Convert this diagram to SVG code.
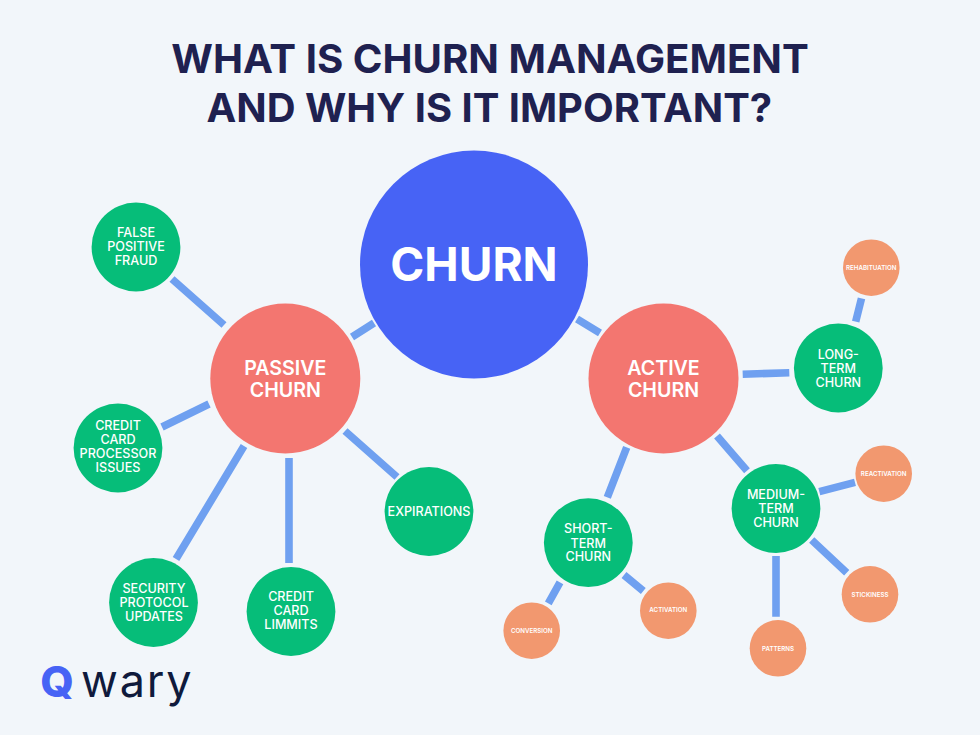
<svg xmlns="http://www.w3.org/2000/svg" width="980" height="735" viewBox="0 0 980 735">
<style>
text{font-family:"Inter","Liberation Sans",sans-serif;text-anchor:middle;font-weight:500}
.l{stroke:#6fa0f0;stroke-width:7.6;fill:none}
.g{fill:#06bd79}.r{fill:#f37670}.o{fill:#f2986f}
.gt{fill:#fff;font-size:12.6px;font-weight:550}.rt{fill:#fff;font-size:19.6px;font-weight:600}.ot{fill:#fff;font-size:6.2px;font-weight:600}
.t{fill:#1f2150;font-size:40.2px;font-weight:700}
</style>
<rect width="980" height="735" fill="#f2f6fa"/>
<text class="t" x="490" y="73">WHAT IS CHURN MANAGEMENT</text>
<text class="t" x="489.3" y="122" style="font-size:39.9px">AND WHY IS IT IMPORTANT?</text>
<g id="connectors">
<path class="l" d="M352 337L374 323M172 279L224 325M162 427L209 404M176 559L244 446M289 458L289 563M345 431L397 477M577 319L600 333M742.7 374.3L789.3 372.7M855.7 321.7L861.5 298.3M717 436L747 470.7M626.7 447.3L607.3 497.3M548.3 603.3L560 582.3M624 575L643.3 591M819.3 491.7L855 482.3M811.7 540L846.7 572.7M776 556L776 616.7"/>
</g>
<g id="churn"><circle cx="474" cy="264.5" r="114" fill="#4763f5"/><text x="474" y="281" fill="#fff" font-size="46" style="font-weight:650">CHURN</text></g>
<g id="passive"><circle class="r" cx="285.3" cy="378.5" r="75"/><text class="rt" x="285.3" y="374.5">PASSIVE</text><text class="rt" x="285.3" y="396.5">CHURN</text></g>
<g id="active"><circle class="r" cx="663.5" cy="378.5" r="75"/><text class="rt" x="663.5" y="374.5">ACTIVE</text><text class="rt" x="663.5" y="396.5">CHURN</text></g>
<g id="false-positive"><circle class="g" cx="136" cy="247" r="44.4"/><text class="gt" x="136" y="237">FALSE</text><text class="gt" x="136" y="251">POSITIVE</text><text class="gt" x="136" y="265">FRAUD</text></g>
<g id="processor"><circle class="g" cx="118" cy="448" r="44.4"/><text class="gt" x="118" y="429.5">CREDIT</text><text class="gt" x="118" y="443.5">CARD</text><text class="gt" x="118" y="457.5">PROCESSOR</text><text class="gt" x="118" y="471.5">ISSUES</text></g>
<g id="security"><circle class="g" cx="153.5" cy="602.5" r="44.4"/><text class="gt" x="154" y="592.5">SECURITY</text><text class="gt" x="154" y="606.5">PROTOCOL</text><text class="gt" x="154" y="620.5">UPDATES</text></g>
<g id="limits"><circle class="g" cx="291" cy="611.5" r="44.4"/><text class="gt" x="291" y="601">CREDIT</text><text class="gt" x="291" y="615">CARD</text><text class="gt" x="291" y="629">LIMMITS</text></g>
<g id="expirations"><circle class="g" cx="429" cy="511.5" r="44.4"/><text class="gt" x="429" y="515.5">EXPIRATIONS</text></g>
<g id="long"><circle class="g" cx="838.3" cy="368" r="44.4"/><text class="gt" x="838.3" y="358.5">LONG-</text><text class="gt" x="838.3" y="372.5">TERM</text><text class="gt" x="838.3" y="386.5">CHURN</text></g>
<g id="medium"><circle class="g" cx="776" cy="508.5" r="44.4"/><text class="gt" x="776" y="498.5">MEDIUM-</text><text class="gt" x="776" y="512.5">TERM</text><text class="gt" x="776" y="526.5">CHURN</text></g>
<g id="short"><circle class="g" cx="588.3" cy="542.7" r="44.4"/><text class="gt" x="588.3" y="533">SHORT-</text><text class="gt" x="588.3" y="547.5">TERM</text><text class="gt" x="588.3" y="561">CHURN</text></g>
<g id="rehabituation"><circle class="o" cx="871.3" cy="267.7" r="28.3"/><text class="ot" x="871.3" y="270.2">REHABITUATION</text></g>
<g id="reactivation"><circle class="o" cx="883.7" cy="473.7" r="28.3"/><text class="ot" x="883.7" y="476.2">REACTIVATION</text></g>
<g id="stickiness"><circle class="o" cx="870" cy="594.3" r="28.3"/><text class="ot" x="870" y="596.5">STICKINESS</text></g>
<g id="patterns"><circle class="o" cx="778" cy="648.3" r="28.3"/><text class="ot" x="778" y="650.8">PATTERNS</text></g>
<g id="activation"><circle class="o" cx="668.3" cy="610.7" r="28.3"/><text class="ot" x="668.3" y="611.8">ACTIVATION</text></g>
<g id="conversion"><circle class="o" cx="531.7" cy="630.7" r="28.3"/><text class="ot" x="531.7" y="633">CONVERSION</text></g>
<g id="logo"><text x="57" y="697" fill="#4763f5" font-size="43" style="font-weight:800">Q</text><text x="81" y="697" fill="#0f1a3c" font-size="45" style="font-weight:400;letter-spacing:1.8px;text-anchor:start">wary</text></g>
</svg>
